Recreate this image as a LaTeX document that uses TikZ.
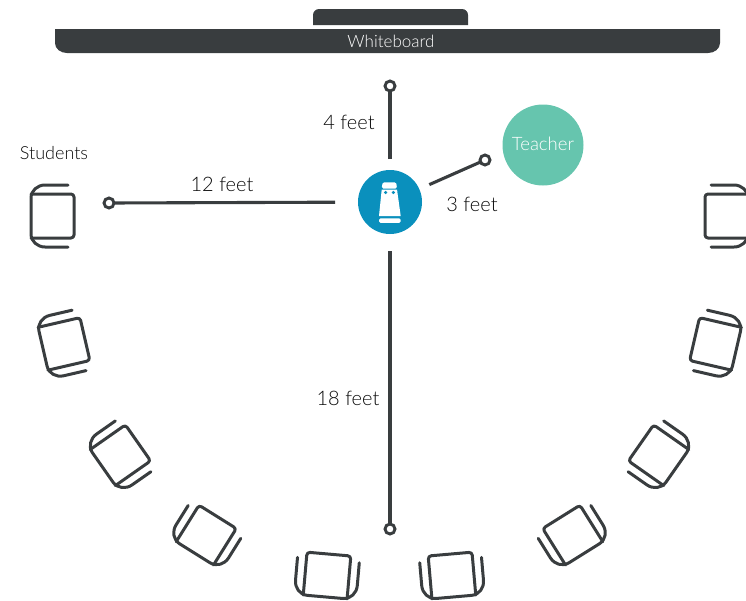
\documentclass[tikz,border=0pt]{standalone}
\usepackage{fontspec}
\setmainfont{Lato Light}
\definecolor{dark}{HTML}{393D3F}
\definecolor{robotblue}{HTML}{0A90BD}
\definecolor{teacherteal}{HTML}{66C5AE}
\tikzset{
  x=1pt,y=1pt,
  chairline/.style={draw=dark,line width=3pt,line cap=round,line join=round},
  measure/.style={draw=dark,line width=3.1pt},
  ring/.style={circle,draw=dark,fill=white,line width=2.9pt,minimum size=10pt,inner sep=0pt,outer sep=0pt},
  lbl/.style={text=black!85!dark,font=\fontsize{20}{22}\selectfont,inner sep=0pt},
  chair/.pic={
    \draw[chairline] (16,-31) -- (-7,-31) to[out=180,in=-90] (-21,-18) -- (-21,18) to[out=90,in=180] (-7,31) -- (16,31);
    \draw[chairline,rounded corners=3pt] (-21,-22) -- (22,-22) -- (22,22) -- (-21,22);
  }
}
\begin{document}
\begin{tikzpicture}
\useasboundingbox (0,0) rectangle (746,-600);
% whiteboard
\fill[dark] (313,-25) -- (313,-15) to[out=90,in=180] (319,-9) -- (462,-9) to[out=0,in=90] (468,-15) -- (468,-25) -- cycle;
\fill[dark] (55,-29) -- (720,-29) -- (720,-43) to[out=-90,in=0] (708,-53) -- (67,-53) to[out=180,in=-90] (55,-43) -- cycle;
\node[text=white,font=\fontsize{17}{18}\selectfont,inner sep=0pt] (wb) at (391,-41.5) {Whiteboard};
% teacher
\node[circle,fill=teacherteal,minimum size=81pt,inner sep=0pt,text=white,font=\fontsize{18.5}{20}\selectfont] (teacher) at (543,-145) {\raisebox{3pt}{Teacher}};
% robot
\node[circle,fill=robotblue,minimum size=64pt,inner sep=0pt,outer sep=0pt] (robot) at (390,-202) {};
\fill[white,rounded corners=1.5pt] (381.7,-188.5) -- (382.6,-182.3) -- (396.2,-182.3) -- (397,-188.5) -- cycle;
\fill[white] (381.7,-189.5) -- (397,-189.5) -- (400.7,-216) -- (379,-216) -- cycle;
\fill[white,rounded corners=1.5pt] (379,-218.3) rectangle (400.7,-222.8);
\fill[robotblue] (385.6,-192.5) circle (1.7);
\fill[robotblue] (393.4,-192.5) circle (1.7);
% rings and measures
\node[ring] (r4) at (390,-86) {};
\node[ring] (r12) at (109,-203) {};
\node[ring] (r3) at (485,-160) {};
\node[ring] (r18) at (390,-529) {};
\draw[measure,shorten <=11pt] (robot) -- (r4);
\draw[measure,shorten <=23pt] (robot) -- (r12);
\draw[measure,shorten <=11pt] (robot) -- (r3);
\draw[measure,shorten <=17pt] (robot) -- (r18);
% labels
\node[lbl] (l4) at (349,-122) {4 feet};
\node[lbl] (l12) at (222,-184) {12 feet};
\node[lbl] (l3) at (472,-204) {3 feet};
\node[lbl] (l18) at (348,-398) {18 feet};
\node[lbl,font=\fontsize{18}{20}\selectfont] (students) at (54,-153) {Students};
% chairs left
\pic[rotate=0] at (52,-216) {chair};
\pic[rotate=13] at (63.5,-344) {chair};
\pic[rotate=35] at (120,-455.5) {chair};
\pic[rotate=58] at (206,-535.5) {chair};
\pic[rotate=85] at (327,-576) {chair};
% chairs right
\pic[xscale=-1,rotate=0] at (727,-216) {chair};
\pic[xscale=-1,rotate=13] at (716,-344) {chair};
\pic[xscale=-1,rotate=35] at (659,-455.5) {chair};
\pic[xscale=-1,rotate=58] at (573,-535.5) {chair};
\pic[xscale=-1,rotate=85] at (452,-576) {chair};
\end{tikzpicture}
\end{document}
